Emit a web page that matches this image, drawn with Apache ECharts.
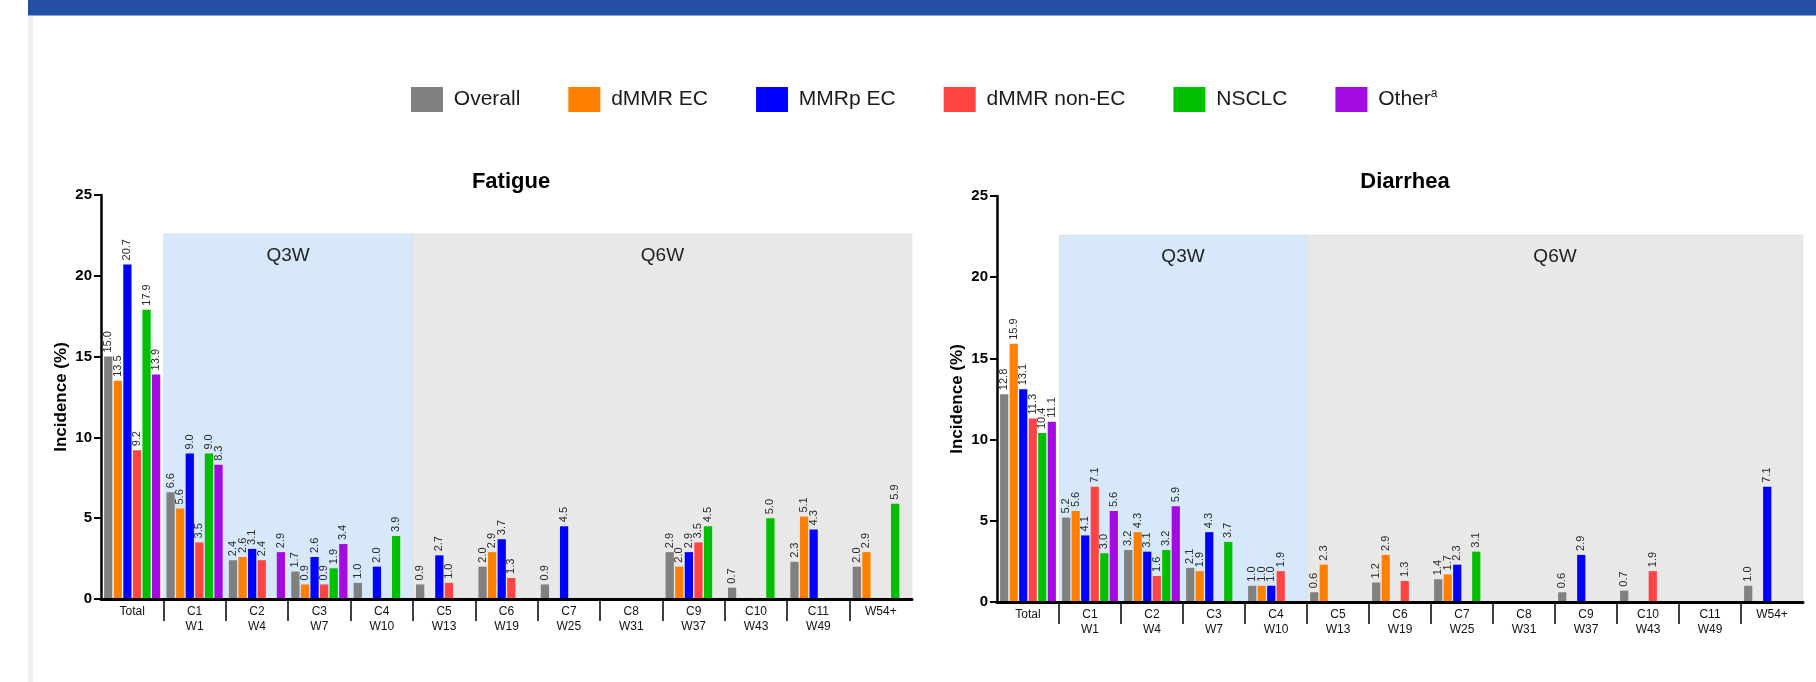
<!DOCTYPE html>
<html>
<head>
<meta charset="utf-8">
<script src="https://cdn.jsdelivr.net/npm/echarts@6/dist/echarts.min.js"></script>
<style>
html,body{margin:0;padding:0;background:#fff;}
#chart{width:1816px;height:682px;}
</style>
</head>
<body>
<div id="chart"></div>
<script>
// ---------- data ----------
const categories = ['Total', 'C1\nW1', 'C2\nW4', 'C3\nW7', 'C4\nW10', 'C5\nW13', 'C6\nW19', 'C7\nW25', 'C8\nW31', 'C9\nW37', 'C10\nW43', 'C11\nW49', 'W54+'];
const seriesNames = ['Overall', 'dMMR EC', 'MMRp EC', 'dMMR non-EC', 'NSCLC', 'Other'];
const yTicks = [0, 5, 10, 15, 20, 25];

// Fatigue
const fatigueOverall   = [15.0, 6.6, 2.4, 1.7, 1.0, 0.9, 2.0, 0.9, null, 2.9, 0.7, 2.3, 2.0];
const fatigueDmmrEC    = [13.5, 5.6, 2.6, 0.9, null, null, 2.9, null, null, 2.0, null, 5.1, 2.9];
const fatigueMmrpEC    = [20.7, 9.0, 3.1, 2.6, 2.0, 2.7, 3.7, 4.5, null, 2.9, null, 4.3, null];
const fatigueDmmrNonEC = [9.2, 3.5, 2.4, 0.9, null, 1.0, 1.3, null, null, 3.5, null, null, null];
const fatigueNSCLC     = [17.9, 9.0, null, 1.9, 3.9, null, null, null, null, 4.5, 5.0, null, 5.9];
const fatigueOther     = [13.9, 8.3, 2.9, 3.4, null, null, null, null, null, null, null, null, null];

// Diarrhea
const diarrheaOverall   = [12.8, 5.2, 3.2, 2.1, 1.0, 0.6, 1.2, 1.4, null, 0.6, 0.7, null, 1.0];
const diarrheaDmmrEC    = [15.9, 5.6, 4.3, 1.9, 1.0, 2.3, 2.9, 1.7, null, null, null, null, null];
const diarrheaMmrpEC    = [13.1, 4.1, 3.1, 4.3, 1.0, null, null, 2.3, null, 2.9, null, null, 7.1];
const diarrheaDmmrNonEC = [11.3, 7.1, 1.6, null, 1.9, null, 1.3, null, null, null, 1.9, null, null];
const diarrheaNSCLC     = [10.4, 3.0, 3.2, 3.7, null, null, null, 3.1, null, null, null, null, null];
const diarrheaOther     = [11.1, 5.6, 5.9, null, null, null, null, null, null, null, null, null, null];

// Dosing regions (category index ranges) and their top value
const regionLabels = ['Q3W', 'Q6W'];
const regionStart = [1, 5];
const regionEnd = [5, 13];
const regionTop = 22.6;

// ---------- styles ----------
const colors = ['#808080', '#ff8000', '#0000ff', '#ff4444', '#00c000', '#a30be0'];
const regionColors = ['#d7e8fb', '#e8e8e8'];
const FONT = 'Liberation Sans, Arial, Helvetica, sans-serif';

const fatigue = [fatigueOverall, fatigueDmmrEC, fatigueMmrpEC, fatigueDmmrNonEC, fatigueNSCLC, fatigueOther];
const diarrhea = [diarrheaOverall, diarrheaDmmrEC, diarrheaMmrpEC, diarrheaDmmrNonEC, diarrheaNSCLC, diarrheaOther];
// separators between categories (boundaries 1..n-1)
const separatorPositions = categories.map(function (c, i) { return i; }).slice(1);

const chart = echarts.init(document.getElementById('chart'), null, {renderer: 'canvas'});

function catAxis(gridIndex) {
  return {
    type: 'category', gridIndex: gridIndex, data: categories,
    axisLine: {lineStyle: {color: '#000', width: 3}},
    axisTick: {show: false},
    axisLabel: {interval: 0, fontFamily: FONT, fontSize: 12, color: '#111', lineHeight: 15, margin: 5},
    z: 5
  };
}
function valXAxis(gridIndex) {
  return {
    type: 'value', gridIndex: gridIndex, min: 0, max: categories.length, interval: 1,
    position: 'bottom',
    axisLine: {show: false},
    axisLabel: {show: false},
    splitLine: {show: false},
    axisTick: {show: true, customValues: separatorPositions, length: 22, lineStyle: {color: '#000', width: 1.5}},
    z: 5
  };
}
function yAxis(gridIndex) {
  return {
    type: 'value', gridIndex: gridIndex, min: yTicks[0], max: yTicks[yTicks.length - 1], interval: yTicks[1] - yTicks[0],
    name: 'Incidence (%)', nameLocation: 'middle', nameGap: 31,
    nameTextStyle: {fontFamily: FONT, fontSize: 17, fontWeight: 'bold', color: '#000'},
    axisLine: {show: true, lineStyle: {color: '#000', width: 2.5}},
    axisTick: {show: true, length: 7, lineStyle: {color: '#000', width: 2}},
    axisLabel: {fontFamily: FONT, fontSize: 15, fontWeight: 'bold', color: '#000', margin: 9},
    splitLine: {show: false},
    z: 5
  };
}

function regionSeries(xIdx, yIdx) {
  const data = regionLabels.map(function (l, i) { return [regionStart[i], regionEnd[i], regionTop]; });
  return {
    type: 'custom', xAxisIndex: xIdx, yAxisIndex: yIdx, silent: true, z: 0,
    encode: {x: [0, 1], y: 2},
    data: data,
    renderItem: function (params, api) {
      const p0 = api.coord([api.value(0), api.value(2)]);
      const p1 = api.coord([api.value(1), 0]);
      const i = params.dataIndex;
      return {
        type: 'group',
        children: [
          {type: 'rect', shape: {x: p0[0], y: p0[1], width: p1[0] - p0[0], height: p1[1] - p0[1]},
           style: {fill: regionColors[i], stroke: '#dcdcdc', lineWidth: 0.5}},
          {type: 'text', style: {text: regionLabels[i], x: (p0[0] + p1[0]) / 2, y: p0[1] + 12,
            align: 'center', verticalAlign: 'top', fontSize: 19, fontFamily: FONT, fill: '#222'}}
        ]
      };
    }
  };
}

function barSeries(groups, xIdx, yIdx) {
  return groups.map(function (arr, i) {
    return {
      name: seriesNames[i], type: 'bar', xAxisIndex: xIdx, yAxisIndex: yIdx,
      data: arr, z: 2,
      barCategoryGap: '10%', barGap: '16%',
      itemStyle: {color: colors[i]},
      label: {
        show: true, position: 'top', rotate: 90, align: 'left', verticalAlign: 'middle', distance: 4,
        fontFamily: FONT, fontSize: 11, color: '#2a2a2a',
        formatter: function (p) { return p.value == null ? '' : Number(p.value).toFixed(1); }
      }
    };
  });
}

const option = {
  backgroundColor: '#fff',
  animation: false,
  graphic: [
    {type: 'rect', left: 28, top: 0, shape: {width: 1816 - 28, height: 15}, style: {fill: '#2450a3'}, silent: true},
    {type: 'rect', left: 28, top: 15, shape: {width: 1816 - 28, height: 1}, style: {fill: '#8ea6d6'}, silent: true},
    {type: 'rect', left: 28, top: 16, shape: {width: 5, height: 682 - 16}, style: {fill: '#efefef'}, silent: true}
  ],
  title: [
    {text: 'Fatigue', left: 506, top: 166, textAlign: 'center',
     textStyle: {fontFamily: FONT, fontSize: 22, fontWeight: 'bold', color: '#000'}},
    {text: 'Diarrhea', left: 1400, top: 166, textAlign: 'center',
     textStyle: {fontFamily: FONT, fontSize: 22, fontWeight: 'bold', color: '#000'}}
  ],
  legend: {
    data: seriesNames, left: 406, top: 82, itemWidth: 32, itemHeight: 25, itemGap: 48,
    icon: 'rect',
    textStyle: {fontFamily: FONT, fontSize: 21, color: '#1a1a1a',
      rich: {sup: {fontFamily: FONT, fontSize: 12, color: '#1a1a1a', padding: [0, 0, 11, 0]}}},
    formatter: function (name) { return name === 'Other' ? ' Other{sup|a}' : ' ' + name; }
  },
  grid: [
    {left: 101, top: 195, width: 811, height: 404},
    {left: 997, top: 196, width: 806, height: 406}
  ],
  xAxis: [catAxis(0), catAxis(1), valXAxis(0), valXAxis(1)],
  yAxis: [yAxis(0), yAxis(1)],
  series: [regionSeries(2, 0), regionSeries(3, 1)]
    .concat(barSeries(fatigue, 0, 0))
    .concat(barSeries(diarrhea, 1, 1))
};
chart.setOption(option);
</script>
</body>
</html>
